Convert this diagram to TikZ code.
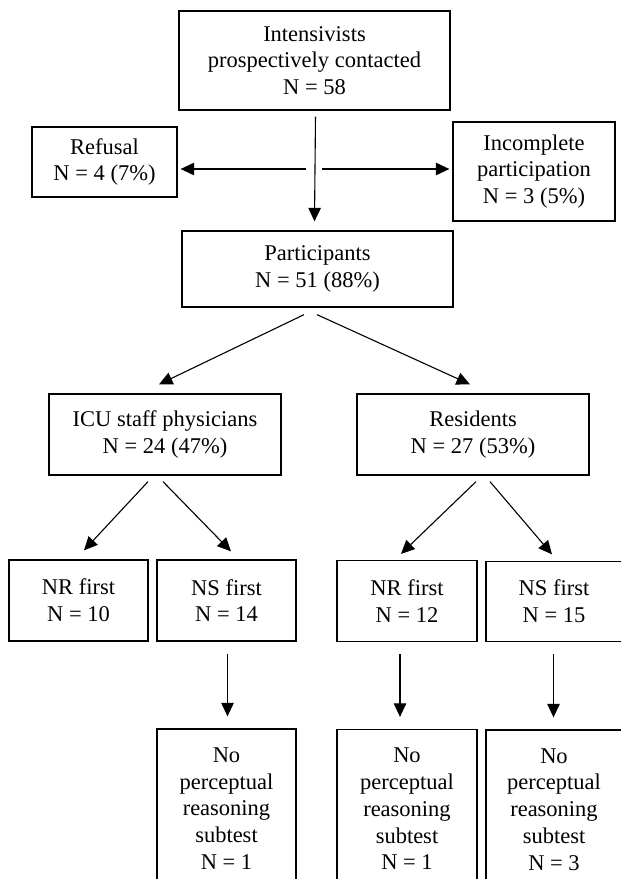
\documentclass[tikz,border=0pt]{standalone}
\usepackage{fontspec}
\setmainfont{Liberation Serif}
\usetikzlibrary{arrows.meta,calc,positioning}
\begin{document}
\begin{tikzpicture}[x=1pt,y=-1pt,
  box/.style={draw,line width=1.3pt,align=center,inner sep=0pt,font=\fontsize{22.5}{26.8}\selectfont},
  arr/.style={line width=1.1pt,-{Triangle[length=13.5pt,width=12.5pt]}}]
\useasboundingbox (0,0) rectangle (621,879);
\clip (0,0) rectangle (621,879);
\node[box,minimum width=271pt,minimum height=99pt] (top) at (314.5,60.5) {Intensivists\\prospectively contacted\\N = 58};
\node[box,minimum width=145pt,minimum height=70pt] (ref) at (104.5,162) {Refusal\\N = 4 (7\%)};
\node[box,minimum width=162pt,minimum height=99pt] (inc) at (534,171.5) {Incomplete\\participation\\N = 3 (5\%)};
\node[box,minimum width=271pt,minimum height=76pt] (part) at (317.5,269) {Participants\\N = 51 (88\%)};
\node[box,minimum width=232pt,minimum height=81pt] (icu) at (165,434.5) {ICU staff physicians\\N = 24 (47\%)};
\node[box,minimum width=232pt,minimum height=81pt] (res) at (473,434.5) {Residents\\N = 27 (53\%)};
\node[box,minimum width=139pt,minimum height=81pt] (icuNR) at (78.5,600.5) {NR first\\N = 10};
\node[box,minimum width=139pt,minimum height=81pt] (icuNS) at (226.5,600.5) {NS first\\N = 14};
\node[box,minimum width=140pt,minimum height=81pt] (resNR) at (407,601) {NR first\\N = 12};
\node[box,minimum width=136pt,minimum height=80pt] (resNS) at (554,601.5) {NS first\\N = 15};
\node[box,minimum width=139pt,minimum height=159pt] (icuNSno) at (226.5,808.5) {No\\perceptual\\reasoning\\subtest\\N = 1};
\node[box,minimum width=140pt,minimum height=159pt] (resNRno) at (407,809) {No\\perceptual\\reasoning\\subtest\\N = 1};
\node[box,minimum width=136pt,minimum height=159pt] (resNSno) at (554,809.5) {No\\perceptual\\reasoning\\subtest\\N = 3};
\coordinate (split) at (315,169);
\draw[arr] ([xshift=1pt,yshift=-6pt]top.south) -- ([xshift=-3pt,yshift=9pt]part.north);
\draw[arr,shorten <=9pt,shorten >=3pt] (split) -- (ref.east |- split);
\draw[arr,shorten <=7pt,shorten >=3pt] (split) -- (inc.west |- split);
\draw[arr] ([xshift=-13.5pt,yshift=-7pt]part.south) -- ([xshift=-6pt,yshift=9pt]icu.north);
\draw[arr] ([xshift=-0.5pt,yshift=-7pt]part.south) -- ([xshift=-3pt,yshift=9pt]res.north);
\draw[arr] ([xshift=-17pt,yshift=-6pt]icu.south) -- ([xshift=5.5pt,yshift=9pt]icuNR.north);
\draw[arr] ([xshift=-2pt,yshift=-6pt]icu.south) -- ([xshift=4.5pt,yshift=8pt]icuNS.north);
\draw[arr] ([xshift=3pt,yshift=-6pt]res.south) -- ([xshift=-6pt,yshift=6pt]resNR.north);
\draw[arr] ([xshift=17pt,yshift=-6pt]res.south) -- ([xshift=-2pt,yshift=6.5pt]resNS.north);
\draw[arr] ([xshift=1pt,yshift=-12pt]icuNS.south) -- ([xshift=1pt,yshift=12pt]icuNSno.north);
\draw[arr] ([xshift=-7pt,yshift=-12pt]resNR.south) -- ([xshift=-7pt,yshift=12pt]resNRno.north);
\draw[arr] ([xshift=-0.5pt,yshift=-12pt]resNS.south) -- ([xshift=-0.5pt,yshift=12pt]resNSno.north);
\end{tikzpicture}
\end{document}
